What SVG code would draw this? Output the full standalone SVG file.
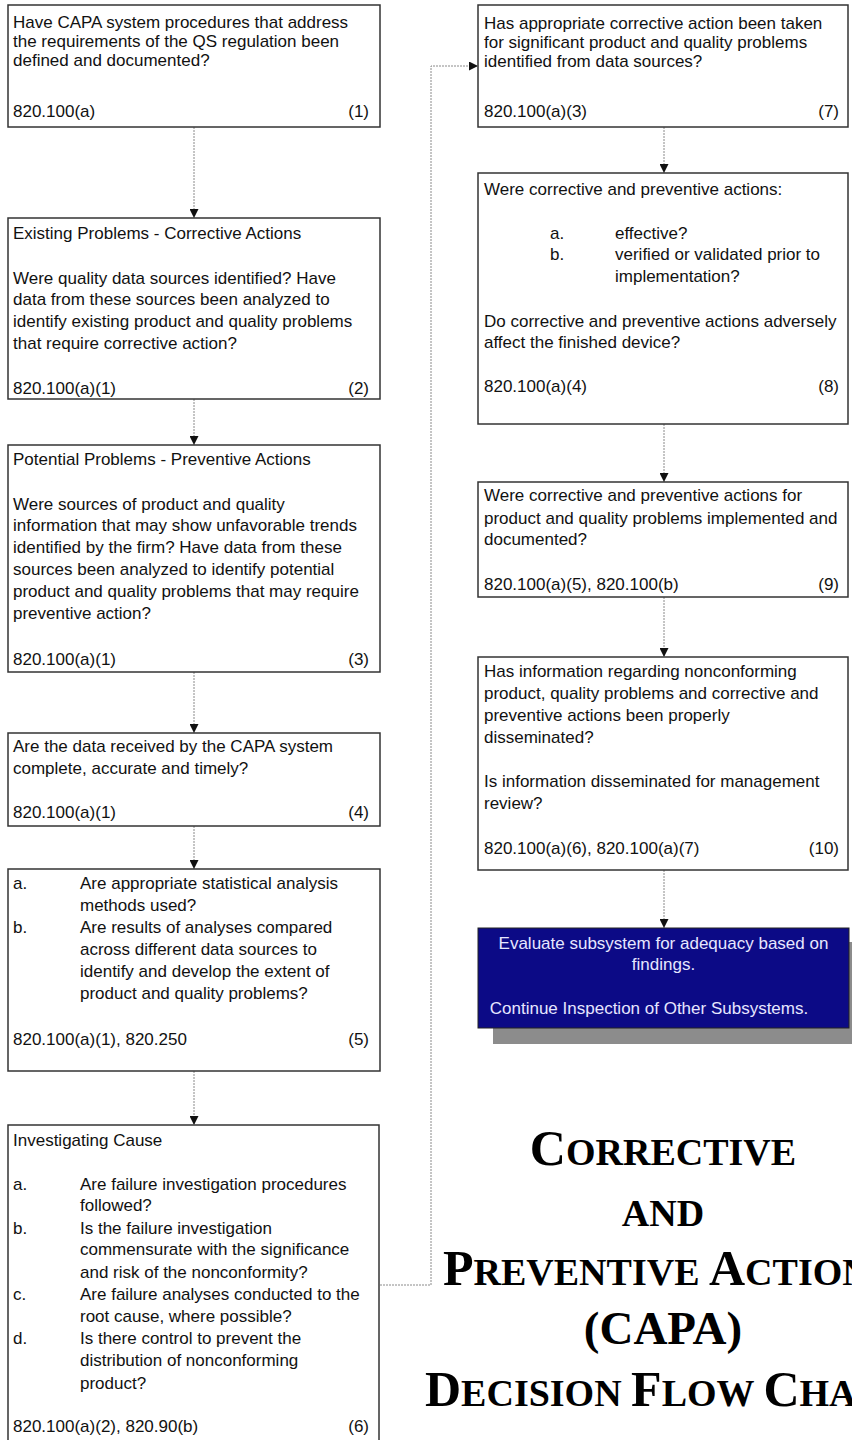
<svg xmlns="http://www.w3.org/2000/svg" width="852" height="1440" viewBox="0 0 852 1440">
<defs>
<style>
.box{fill:#fff;stroke:#333;stroke-width:1.5}
.t{font-family:"Liberation Sans",Arial,sans-serif;font-size:17px;fill:#111}
.r{text-anchor:end}
.con{fill:none;stroke:#8a8a8a;stroke-width:1;stroke-dasharray:2 1}
.bt{font-family:"Liberation Sans",Arial,sans-serif;font-size:17px;fill:#e6e6ff;text-anchor:middle}
.title{font-family:"Liberation Serif","Times New Roman",serif;font-weight:bold;fill:#000}
</style>
<marker id="ah" viewBox="0 0 10 10" refX="10" refY="5" markerWidth="9" markerHeight="9" markerUnits="userSpaceOnUse" orient="auto">
<path d="M0,0 L10,5 L0,10 Z" fill="#111"/>
</marker>
</defs>
<rect width="852" height="1440" fill="#fff"/>

<g id="connectors">
<line class="con" x1="194" y1="127" x2="194" y2="218" marker-end="url(#ah)"/>
<line class="con" x1="194" y1="399" x2="194" y2="445" marker-end="url(#ah)"/>
<line class="con" x1="194" y1="672" x2="194" y2="733" marker-end="url(#ah)"/>
<line class="con" x1="194" y1="826" x2="194" y2="869" marker-end="url(#ah)"/>
<line class="con" x1="194" y1="1071" x2="194" y2="1125" marker-end="url(#ah)"/>
<polyline class="con" points="380,1285 431,1285 431,66 478,66" marker-end="url(#ah)"/>
<line class="con" x1="664" y1="127" x2="664" y2="173" marker-end="url(#ah)"/>
<line class="con" x1="664" y1="424" x2="664" y2="482" marker-end="url(#ah)"/>
<line class="con" x1="664" y1="597" x2="664" y2="657" marker-end="url(#ah)"/>
<line class="con" x1="664" y1="870" x2="664" y2="928" marker-end="url(#ah)"/>
</g>

<g id="node1">
<rect class="box" x="8" y="5" width="372" height="122"/>
<text class="t" x="13" y="27.5">Have CAPA system procedures that address</text>
<text class="t" x="13" y="46.5">the requirements of the QS regulation been</text>
<text class="t" x="13" y="65.5">defined and documented?</text>
<text class="t" x="13" y="116.5">820.100(a)</text>
<text class="t r" x="369" y="116.5">(1)</text>
</g>

<g id="node2">
<rect class="box" x="8" y="218" width="372" height="181"/>
<text class="t" x="13" y="238.5">Existing Problems - Corrective Actions</text>
<text class="t" x="13" y="283.5">Were quality data sources identified?  Have</text>
<text class="t" x="13" y="304.5">data from these sources been analyzed to</text>
<text class="t" x="13" y="326.5">identify existing product and quality problems</text>
<text class="t" x="13" y="348.5">that require corrective action?</text>
<text class="t" x="13" y="394">820.100(a)(1)</text>
<text class="t r" x="369" y="394">(2)</text>
</g>

<g id="node3">
<rect class="box" x="8" y="445" width="372" height="227"/>
<text class="t" x="13" y="465">Potential Problems - Preventive Actions</text>
<text class="t" x="13" y="510">Were sources of product and quality</text>
<text class="t" x="13" y="531">information that may show unfavorable trends</text>
<text class="t" x="13" y="553">identified by the firm?  Have data from these</text>
<text class="t" x="13" y="575">sources been analyzed to identify potential</text>
<text class="t" x="13" y="596.5">product and quality problems that may require</text>
<text class="t" x="13" y="619">preventive action?</text>
<text class="t" x="13" y="665">820.100(a)(1)</text>
<text class="t r" x="369" y="665">(3)</text>
</g>

<g id="node4">
<rect class="box" x="8" y="733" width="372" height="93"/>
<text class="t" x="13" y="752">Are the data received by the CAPA system</text>
<text class="t" x="13" y="773.5">complete, accurate and timely?</text>
<text class="t" x="13" y="818">820.100(a)(1)</text>
<text class="t r" x="369" y="818">(4)</text>
</g>

<g id="node5">
<rect class="box" x="8" y="869" width="372" height="202"/>
<text class="t" x="13" y="889">a.</text>
<text class="t" x="80" y="889">Are appropriate statistical analysis</text>
<text class="t" x="80" y="911">methods used?</text>
<text class="t" x="13" y="933">b.</text>
<text class="t" x="80" y="933">Are results of analyses compared</text>
<text class="t" x="80" y="954.5">across different data sources to</text>
<text class="t" x="80" y="976.5">identify and develop the extent of</text>
<text class="t" x="80" y="998.5">product and quality problems?</text>
<text class="t" x="13" y="1044.5">820.100(a)(1), 820.250</text>
<text class="t r" x="369" y="1044.5">(5)</text>
</g>

<g id="node6">
<rect class="box" x="8" y="1125" width="371" height="320"/>
<text class="t" x="13" y="1146">Investigating Cause</text>
<text class="t" x="13" y="1190">a.</text>
<text class="t" x="80" y="1190">Are failure investigation procedures</text>
<text class="t" x="80" y="1211">followed?</text>
<text class="t" x="13" y="1233.5">b.</text>
<text class="t" x="80" y="1233.5">Is the failure investigation</text>
<text class="t" x="80" y="1255">commensurate with the significance</text>
<text class="t" x="80" y="1277.5">and risk of the nonconformity?</text>
<text class="t" x="13" y="1299.5">c.</text>
<text class="t" x="80" y="1299.5">Are failure analyses conducted to the</text>
<text class="t" x="80" y="1321.5">root cause, where possible?</text>
<text class="t" x="13" y="1343.5">d.</text>
<text class="t" x="80" y="1343.5">Is there control to prevent the</text>
<text class="t" x="80" y="1366">distribution of nonconforming</text>
<text class="t" x="80" y="1388.5">product?</text>
<text class="t" x="13" y="1432">820.100(a)(2), 820.90(b)</text>
<text class="t r" x="369" y="1432">(6)</text>
</g>

<g id="node7">
<rect class="box" x="478" y="5" width="370" height="122"/>
<text class="t" x="484" y="28.5">Has appropriate corrective action been taken</text>
<text class="t" x="484" y="47.5">for significant product and quality problems</text>
<text class="t" x="484" y="66.5">identified from data sources?</text>
<text class="t" x="484" y="116.5">820.100(a)(3)</text>
<text class="t r" x="839" y="116.5">(7)</text>
</g>

<g id="node8">
<rect class="box" x="478" y="173" width="370" height="251"/>
<text class="t" x="484" y="195">Were corrective and preventive actions:</text>
<text class="t" x="550" y="238.5">a.</text>
<text class="t" x="615" y="238.5">effective?</text>
<text class="t" x="550" y="260">b.</text>
<text class="t" x="615" y="260">verified or validated prior to</text>
<text class="t" x="615" y="281.5">implementation?</text>
<text class="t" x="484" y="326.5">Do corrective and preventive actions adversely</text>
<text class="t" x="484" y="347.5">affect the finished device?</text>
<text class="t" x="484" y="391.5">820.100(a)(4)</text>
<text class="t r" x="839" y="391.5">(8)</text>
</g>

<g id="node9">
<rect class="box" x="478" y="482" width="370" height="115"/>
<text class="t" x="484" y="501">Were corrective and preventive actions for</text>
<text class="t" x="484" y="523.5">product and quality problems implemented and</text>
<text class="t" x="484" y="545">documented?</text>
<text class="t" x="484" y="590">820.100(a)(5), 820.100(b)</text>
<text class="t r" x="839" y="590">(9)</text>
</g>

<g id="node10">
<rect class="box" x="478" y="657" width="370" height="213"/>
<text class="t" x="484" y="676.5">Has information regarding nonconforming</text>
<text class="t" x="484" y="698.5">product, quality problems and corrective and</text>
<text class="t" x="484" y="721">preventive actions been properly</text>
<text class="t" x="484" y="742.5">disseminated?</text>
<text class="t" x="484" y="786.5">Is information disseminated for management</text>
<text class="t" x="484" y="809">review?</text>
<text class="t" x="484" y="853.5">820.100(a)(6), 820.100(a)(7)</text>
<text class="t r" x="839" y="853.5">(10)</text>
</g>

<g id="end">
<rect x="493" y="942" width="371" height="102" fill="#8c8c8c"/>
<rect x="478" y="928" width="371" height="100" fill="#0c0a86" stroke="#222" stroke-width="1"/>
<text class="bt" x="663.5" y="948.5">Evaluate subsystem for adequacy based on</text>
<text class="bt" x="663.5" y="969.5">findings.</text>
<text class="bt" x="649" y="1013.5">Continue Inspection of Other Subsystems.</text>
</g>

<g id="title" class="title">
<text x="663" y="1165" text-anchor="middle"><tspan font-size="50">C</tspan><tspan font-size="38">ORRECTIVE</tspan></text>
<text x="663" y="1226" text-anchor="middle" font-size="38">AND</text>
<text x="443" y="1285"><tspan font-size="50">P</tspan><tspan font-size="38">REVENTIVE </tspan><tspan font-size="50">A</tspan><tspan font-size="38">CTION</tspan></text>
<text x="663" y="1344" text-anchor="middle" font-size="47">(CAPA)</text>
<text x="425" y="1406"><tspan font-size="50">D</tspan><tspan font-size="38">ECISION </tspan><tspan font-size="50">F</tspan><tspan font-size="38">LOW </tspan><tspan font-size="50">C</tspan><tspan font-size="38">HART</tspan></text>
</g>
</svg>
